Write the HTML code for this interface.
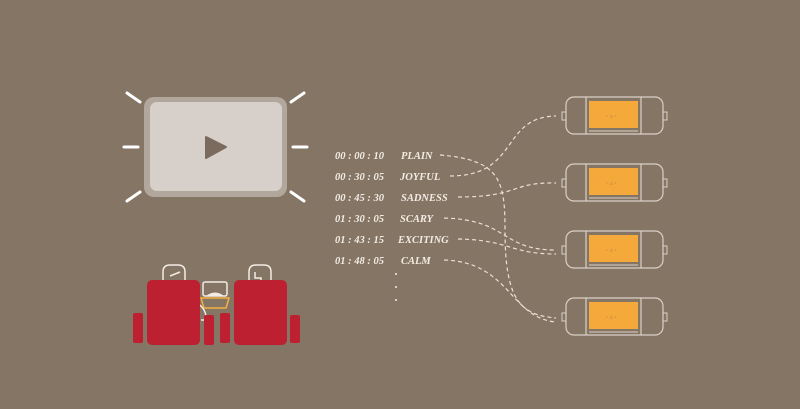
<!DOCTYPE html>
<html><head><meta charset="utf-8"><style>
html,body{margin:0;padding:0;background:#857565;}
svg{display:block}
text{font-family:"Liberation Serif",serif;font-style:italic;font-weight:bold;fill:#f3ece4;font-size:10.5px}
</style></head><body>
<svg width="800" height="409" viewBox="0 0 800 409" xmlns="http://www.w3.org/2000/svg">
<rect width="800" height="409" fill="#857565"/>
<!-- screen -->
<rect x="144" y="97" width="143" height="100" rx="10" fill="#b2a79c"/>
<rect x="150" y="102" width="132" height="89" rx="7" fill="#d7d0ca"/>
<path d="M206 137 L226 147 L206 158 Z" fill="#7a6b5e" stroke="#7a6b5e" stroke-width="2" stroke-linejoin="round"/>
<g stroke="#fff" stroke-width="3" stroke-linecap="round">
<line x1="127" y1="93" x2="140" y2="102"/><line x1="124" y1="147" x2="138" y2="147"/><line x1="127" y1="201" x2="140" y2="192"/>
<line x1="291" y1="102" x2="304" y2="93"/><line x1="293" y1="147" x2="307" y2="147"/><line x1="291" y1="192" x2="304" y2="201"/>
</g>
<!-- seats -->
<g fill="none" stroke="#f3ece4" stroke-width="1.5">
<path d="M163 282 V272 q0 -7 7 -7 h8 q7 0 7 7 V282"/>
<path d="M170 276 l10 -4"/>
<path d="M249 282 V272 q0 -7 7 -7 h8 q7 0 7 7 V282"/>
<path d="M255 272 v6 h6 v4"/>
<rect x="203" y="282" width="24" height="14" rx="2"/>
<path d="M201 298 h28 l-3 10 h-22 z" stroke="#f5b042"/>
<path d="M200 305 q8 8 5 15 l-4 0"/>
</g>
<path d="M206 296 q9 -7 18 0 z" fill="#f3ece4"/>
<g fill="#bd2131">
<rect x="147" y="280" width="53" height="65" rx="5"/>
<rect x="234" y="280" width="53" height="65" rx="5"/>
<rect x="133" y="313" width="10" height="30" rx="2"/>
<rect x="204" y="315" width="10" height="30" rx="2"/>
<rect x="220" y="313" width="10" height="30" rx="2"/>
<rect x="290" y="315" width="10" height="28" rx="2"/>
</g>
<!-- labels -->
<text x="335" y="159">00 : 00 : 10</text><text x="401" y="159">PLAIN</text>
<text x="335" y="180">00 : 30 : 05</text><text x="400" y="180">JOYFUL</text>
<text x="335" y="201">00 : 45 : 30</text><text x="401" y="201">SADNESS</text>
<text x="335" y="222">01 : 30 : 05</text><text x="400" y="222">SCARY</text>
<text x="335" y="243">01 : 43 : 15</text><text x="398" y="243">EXCITING</text>
<text x="335" y="264">01 : 48 : 05</text><text x="401" y="264">CALM</text>
<g fill="#f3ece4"><circle cx="396" cy="274" r="1"/><circle cx="396" cy="287" r="1"/><circle cx="396" cy="300" r="1"/></g>
<!-- connectors -->
<g fill="none" stroke="#e8e0d6" stroke-width="1.2" stroke-dasharray="4 3">
<path d="M440 155 C500 160 505 180 505 230 C505 300 520 315 556 318"/>
<path d="M450 176 C520 176 500 117 556 116"/>
<path d="M458 197 C520 197 510 182 556 183"/>
<path d="M444 218 C510 220 500 250 556 250"/>
<path d="M458 239 C510 240 510 254 556 254"/>
<path d="M444 260 C510 262 510 318 556 322"/>
</g>
<!-- boxes -->
<g id="b">
<rect x="566" y="97" width="97" height="37" rx="8" fill="none" stroke="#d9d1c8" stroke-width="1.2"/>
<rect x="562" y="112" width="4" height="8" fill="none" stroke="#d9d1c8"/>
<rect x="663" y="112" width="4" height="8" fill="none" stroke="#d9d1c8"/>
<line x1="586" y1="97" x2="586" y2="134" stroke="#d9d1c8" stroke-width="1.2"/>
<line x1="641" y1="97" x2="641" y2="134" stroke="#d9d1c8" stroke-width="1.2"/>
<rect x="589" y="101" width="49" height="27" fill="#f5a93a"/>
<line x1="589" y1="131" x2="638" y2="131" stroke="#d9d1c8"/>
<text x="606" y="118" style="font-size:6px;fill:#b0764a;font-style:normal">· ⌂ ·</text>
</g>
<use href="#b" y="67"/><use href="#b" y="134"/><use href="#b" y="201"/>
</svg>
</body></html>
